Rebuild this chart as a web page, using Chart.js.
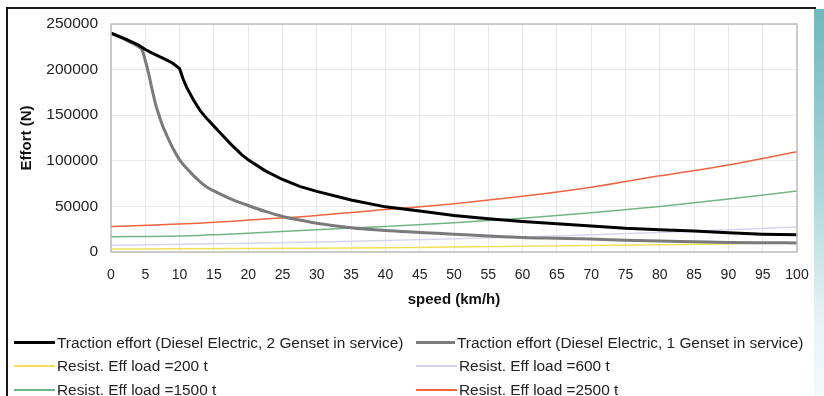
<!DOCTYPE html>
<html>
<head>
<meta charset="utf-8">
<script src="https://cdn.jsdelivr.net/npm/chart.js@4.4.1/dist/chart.umd.min.js"></script>
<style>
  html, body { margin: 0; padding: 0; background: #fff; overflow: hidden; }
  body { width: 824px; height: 396px; position: relative; font-family: "Liberation Sans", Arial, sans-serif; }
  #wrap { position: absolute; left: 0; top: 0; width: 814px; height: 313px; }
  #frame { position: absolute; left: 6px; top: 7px; width: 808px; height: 400px;
           border-top: 2px solid #1a1a1a; border-left: 2px solid #1a1a1a; pointer-events: none; }
  #side { position: absolute; left: 814px; top: 9px; width: 10px; height: 387px;
          background: linear-gradient(to bottom, #6fb8bf 0%, #a9d5d9 45%, #e6f3f4 80%, #f4fafa 100%); }
  #legend { position: absolute; left: 0; top: 331px; width: 814px; }
  .item { position: absolute; height: 23px; display: flex; align-items: center;
          font-size: 15.4px; color: #222; white-space: nowrap; }
  .item .ln { display: inline-block; margin-right: 2px; }
</style>
</head>
<body>
<div id="wrap"><canvas id="chart"></canvas></div>
<div id="frame"></div>
<div id="side"></div>
<div id="legend"></div>
<script>
// traction effort, 2 gensets
const speed2 = [0, 2, 4, 5, 6, 8, 9, 10, 10.5, 11, 12, 13, 14, 15, 16, 17.5, 19, 20, 22.5, 25, 27.5, 30, 35, 40, 45, 50, 55, 60, 65, 70, 75, 80, 85, 90, 95, 100];
const effort2 = [240000, 234000, 227000, 222000, 218000, 211000, 207000, 201000, 190000, 181000, 167000, 155000, 146000, 138000, 130000, 118000, 107000, 101000, 89000, 79500, 72000, 66500, 57000, 49500, 45000, 40000, 36500, 33500, 31000, 28500, 26000, 24500, 23000, 21000, 19500, 18800];

// traction effort, 1 genset
const speed1 = [0, 2, 4, 4.5, 5, 5.5, 6, 6.5, 7, 7.5, 8, 9, 10, 11, 12, 13, 14, 15, 17.5, 20, 22.5, 25, 27.5, 30, 35, 40, 45, 50, 55, 60, 65, 70, 75, 80, 85, 90, 95, 100];
const effort1 = [240000, 233000, 225000, 222000, 210000, 195000, 178000, 162000, 150000, 139000, 130000, 114000, 101000, 92000, 84000, 77000, 71000, 67000, 58000, 51000, 44500, 39000, 35000, 31500, 26500, 23500, 21500, 19500, 17500, 15800, 15000, 14200, 13000, 12000, 11300, 10500, 10200, 10000];

// running resistance by load
const speedRes = [0, 10, 20, 30, 40, 50, 60, 70, 80, 90, 100];
const res200 = [3300, 3500, 3800, 4200, 4700, 5400, 6200, 7000, 8000, 9000, 10200];
const res600 = [7500, 8400, 9500, 10900, 12500, 14400, 16500, 18900, 21500, 24400, 27500];
const res1500 = [16800, 17500, 20500, 24500, 28000, 32000, 37000, 43000, 50000, 58000, 67000];
const res2500 = [28000, 30700, 35000, 40000, 46500, 53000, 61000, 71000, 83500, 95500, 110000];

const labels = [
  'Traction effort (Diesel Electric, 2 Genset in service)',
  'Traction effort (Diesel Electric, 1 Genset in service)',
  'Resist. Eff load =200 t',
  'Resist. Eff load =600 t',
  'Resist. Eff load =1500 t',
  'Resist. Eff load =2500 t'
];

function pts(xs, ys) {
  return xs.map((x, i) => ({ x: x, y: ys[i] }));
}

const datasets = [
  { label: labels[0], data: pts(speed2, effort2), borderColor: '#000000', borderWidth: 3, order: 1 },
  { label: labels[1], data: pts(speed1, effort1), borderColor: '#7a7a7a', borderWidth: 3, order: 2 },
  { label: labels[2], data: pts(speedRes, res200), borderColor: '#eee05a', borderWidth: 1.5, order: 6 },
  { label: labels[3], data: pts(speedRes, res600), borderColor: '#d6d6f0', borderWidth: 1.5, order: 5 },
  { label: labels[4], data: pts(speedRes, res1500), borderColor: '#72b583', borderWidth: 1.5, order: 4 },
  { label: labels[5], data: pts(speedRes, res2500), borderColor: '#f0643f', borderWidth: 1.5, order: 3 }
];
datasets.forEach(d => { d.pointRadius = 0; d.cubicInterpolationMode = 'monotone'; d.fill = false; });
// traction curves have a sharp corner, keep them straight between points
datasets[0].cubicInterpolationMode = 'default';
datasets[0].tension = 0;

// light frame around the plot area
const plotFrame = {
  id: 'plotFrame',
  afterDraw(chart) {
    const a = chart.chartArea;
    const ctx = chart.ctx;
    ctx.save();
    ctx.strokeStyle = '#bdbdbd';
    ctx.lineWidth = 1.5;
    ctx.strokeRect(a.left, a.top, a.right - a.left, a.bottom - a.top);
    ctx.restore();
  }
};

const chart = new Chart(document.getElementById('chart'), {
  type: 'line',
  data: { datasets: datasets },
  plugins: [plotFrame],
  options: {
    responsive: true,
    maintainAspectRatio: false,
    animation: false,
    layout: { padding: { top: 24, right: 17, left: 0, bottom: 0 } },
    plugins: { legend: { display: false }, tooltip: { enabled: false } },
    scales: {
      x: {
        type: 'linear', min: 0, max: 100,
        afterFit(scale) { scale.height = 61; scale.paddingLeft = 0; scale.paddingRight = 0; },
        grid: { color: '#e8e8e8', drawTicks: false },
        border: { display: false },
        ticks: { stepSize: 5, padding: 15, color: '#222', font: { family: '"Liberation Sans", Arial', size: 14 } },
        title: { display: true, text: 'speed (km/h)', color: '#111', padding: { top: 4, bottom: 4 },
                 font: { family: '"Liberation Sans", Arial', size: 15, weight: 'bold' } }
      },
      y: {
        min: 0, max: 250000,
        afterFit(scale) { scale.width = 111; },
        grid: { color: '#e8e8e8', drawTicks: false },
        border: { display: false },
        ticks: { stepSize: 50000, padding: 13, color: '#222', callback: v => String(v),
                 font: { family: '"Liberation Sans", Arial', size: 15.5 } },
        title: { display: true, text: 'Effort (N)', color: '#111', padding: { top: 18, bottom: 0 },
                 font: { family: '"Liberation Sans", Arial', size: 15, weight: 'bold' } }
      }
    }
  }
});

// two-column legend below the chart
const legendPos = [[14, 0], [416, 0], [14, 23], [416, 23], [14, 47], [416, 47]];
const legendBox = document.getElementById('legend');
datasets.forEach((d, i) => {
  const item = document.createElement('div');
  item.className = 'item';
  item.style.left = legendPos[i][0] + 'px';
  item.style.top = legendPos[i][1] + 'px';
  const ln = document.createElement('span');
  ln.className = 'ln';
  ln.style.width = (i === 1 ? 39 : 41) + 'px';
  ln.style.height = (i < 2 ? 3 : 2) + 'px';
  ln.style.background = d.borderColor;
  const tx = document.createElement('span');
  tx.textContent = d.label;
  item.appendChild(ln);
  item.appendChild(tx);
  legendBox.appendChild(item);
});
</script>
</body>
</html>
